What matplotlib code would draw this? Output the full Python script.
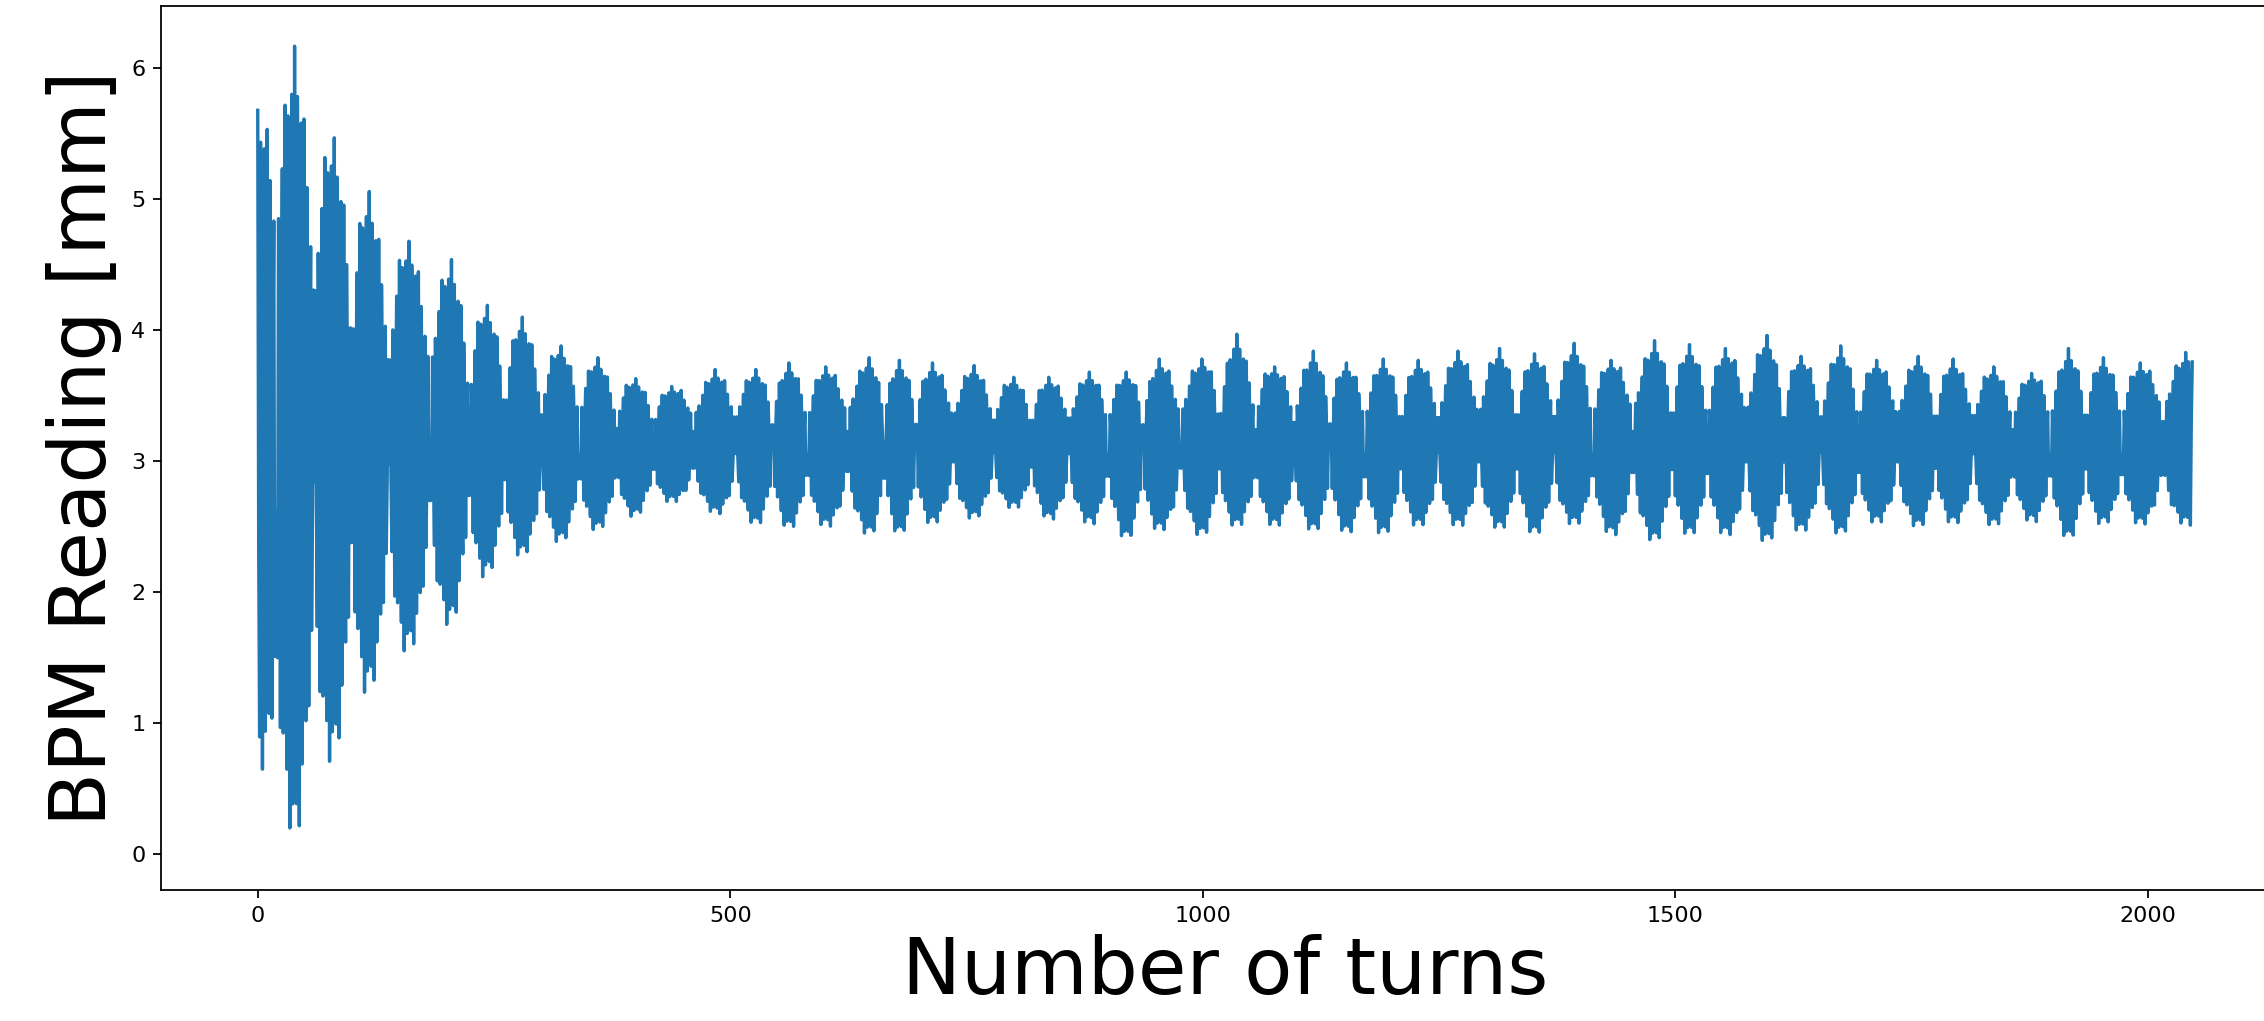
import numpy as np
import matplotlib
matplotlib.use("Agg")
import matplotlib.pyplot as plt

# turn-by-turn BPM signal, 2048 turns
n_turns = 2048

# beat maxima: turn of each beat, top and bottom of the band [mm]
beat_turns = [0, 39, 81, 118, 160, 205, 243, 280, 321, 360,
              400, 438, 484, 527, 562, 601, 647, 679, 714, 758,
              800, 837, 880, 919, 954, 999, 1036, 1076, 1117, 1152,
              1191, 1228, 1270, 1314, 1351, 1393, 1432, 1478, 1515, 1553,
              1597, 1633, 1675, 1713, 1757, 1794, 1837, 1877, 1916, 1953,
              1992, 2040]
upper = [5.68, 6.17, 5.47, 5.06, 4.68, 4.54, 4.19, 4.10, 3.88, 3.79,
         3.63, 3.57, 3.70, 3.70, 3.75, 3.72, 3.79, 3.77, 3.75, 3.73,
         3.64, 3.64, 3.68, 3.68, 3.78, 3.78, 3.97, 3.72, 3.84, 3.75,
         3.78, 3.77, 3.84, 3.86, 3.82, 3.90, 3.77, 3.92, 3.89, 3.86,
         3.96, 3.80, 3.88, 3.77, 3.80, 3.78, 3.72, 3.67, 3.86, 3.79,
         3.75, 3.83]
lower = [0.67, 0.03, 0.71, 1.22, 1.53, 1.73, 2.12, 2.26, 2.37, 2.46,
         2.57, 2.69, 2.59, 2.50, 2.47, 2.49, 2.42, 2.42, 2.51, 2.55,
         2.64, 2.54, 2.51, 2.38, 2.46, 2.41, 2.49, 2.49, 2.45, 2.43,
         2.42, 2.49, 2.49, 2.47, 2.42, 2.51, 2.42, 2.37, 2.42, 2.42,
         2.36, 2.45, 2.42, 2.52, 2.48, 2.51, 2.49, 2.53, 2.38, 2.51,
         2.50, 2.51]
# half width of the band at the node between two beats [mm]
node_width = [1.50, 0.90, 0.65, 0.45, 0.35, 0.25, 0.20, 0.17, 0.15, 0.14,
              0.13, 0.13, 0.13, 0.13, 0.13, 0.13, 0.13, 0.13, 0.13, 0.13,
              0.13, 0.13, 0.13, 0.13, 0.13, 0.13, 0.13, 0.13, 0.13, 0.13,
              0.13, 0.13, 0.13, 0.13, 0.13, 0.13, 0.13, 0.13, 0.13, 0.13,
              0.13, 0.13, 0.13, 0.13, 0.13, 0.13, 0.13, 0.13, 0.13, 0.13,
              0.13]
orbit = 3.11   # closed orbit [mm]
# relative kick over 10 turns (tune ~0.3)
cycle = [1.0, -0.3, -0.9, 0.9, 0.3, -1.0, 0.3, 0.9, -0.9, -0.3]

# rebuild the turn-by-turn readings from the beat envelope
turns = np.arange(n_turns)
bt = np.array(beat_turns, dtype=float)
up = np.array(upper) - orbit
dn = orbit - np.array(lower)
nw = np.array(node_width)

k = np.clip(np.searchsorted(bt, turns, side="right") - 1, 0, len(bt) - 2)
w = np.clip((turns - bt[k]) / (bt[k + 1] - bt[k]), 0, 1)
lobe = np.abs(np.cos(np.pi * w)) ** 0.7
amp_up = nw[k] + ((1 - w) * up[k] + w * up[k + 1] - nw[k]) * lobe
amp_dn = nw[k] + ((1 - w) * dn[k] + w * dn[k + 1] - nw[k]) * lobe
nearest = np.where(w < 0.5, bt[k], bt[k + 1]).astype(int)
carrier = np.array(cycle)[(turns - nearest) % len(cycle)]
bpm = orbit + np.where(carrier > 0, amp_up, amp_dn) * carrier

fig = plt.figure(figsize=(2264 / 160, 1021 / 160), dpi=160)
ax = fig.add_axes([161 / 2264, 1 - 890 / 1021, 2128 / 2264, 884 / 1021])
ax.plot(turns, bpm)
ax.set_xlim(-102.35, 2149.35)
ax.set_ylim(-0.277, 6.477)
ax.set_xlabel("Number of turns", fontsize=35.5)
ax.set_ylabel("BPM Reading [mm]", fontsize=35.5)

fig.savefig("out.png", dpi=160)
